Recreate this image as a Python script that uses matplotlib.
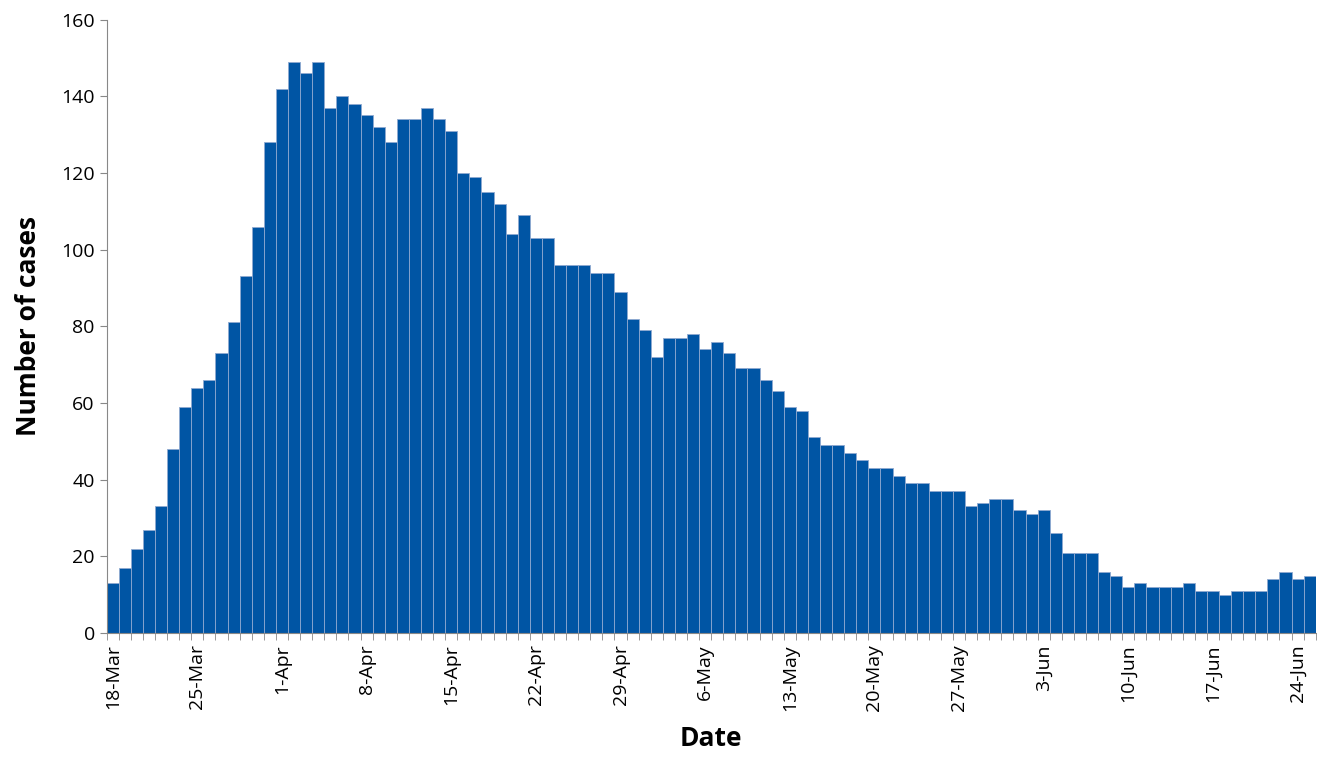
import numpy as np
import pandas as pd
import matplotlib
matplotlib.use("Agg")
import matplotlib.pyplot as plt

plt.rcParams['font.family'] = ['Open Sans', 'DejaVu Sans']

# daily case counts from 18-Mar to 25-Jun
start_date = "2020-03-18"
cases = [13, 17, 22, 27, 33, 48, 59, 64, 66, 73,
         81, 93, 106, 128, 142, 149, 146, 149, 137, 140,
         138, 135, 132, 128, 134, 134, 137, 134, 131, 120,
         119, 115, 112, 104, 109, 103, 103, 96, 96, 96,
         94, 94, 89, 82, 79, 72, 77, 77, 78, 74,
         76, 73, 69, 69, 66, 63, 59, 58, 51, 49,
         49, 47, 45, 43, 43, 41, 39, 39, 37, 37,
         37, 33, 34, 35, 35, 32, 31, 32, 26, 21,
         21, 21, 16, 15, 12, 13, 12, 12, 12, 13,
         11, 11, 10, 11, 11, 11, 14, 16, 14, 15]
dates = pd.date_range(start_date, periods=len(cases), freq="D")
tick_labels = [f"{d.day}-{d.strftime('%b')}" for d in dates]

fig = plt.figure(figsize=(13.17, 7.65), dpi=100)
ax = fig.add_axes([0.081, 0.1725, 0.918, 0.802])

x = np.arange(len(cases))
ax.bar(x, cases, width=1.0, color="#0055A4", edgecolor="#8fa9d0", linewidth=0.6)

ax.set_xlim(-0.5, len(cases) - 0.5)
ax.set_ylim(0, 160)
ax.set_yticks(range(0, 161, 20))
ax.set_xticks(x[::7])
ax.set_xticklabels(tick_labels[::7], rotation=90, fontsize=14)
ax.set_xticks(np.arange(-0.5, len(cases), 1), minor=True)
ax.tick_params(axis='x', which='major', length=0, pad=8)
ax.tick_params(axis='x', which='minor', length=5, color="#888888")
ax.tick_params(axis='y', labelsize=14, length=5, color="#888888")

for side in ["top", "right"]:
    ax.spines[side].set_visible(False)
ax.spines["left"].set_color("#888888")
ax.spines["bottom"].set_color("#888888")

ax.set_xlabel("Date", fontsize=19, fontweight="bold", labelpad=10)
ax.set_ylabel("Number of cases", fontsize=19, fontweight="bold", labelpad=14)

fig.savefig("out.png", dpi=100)
